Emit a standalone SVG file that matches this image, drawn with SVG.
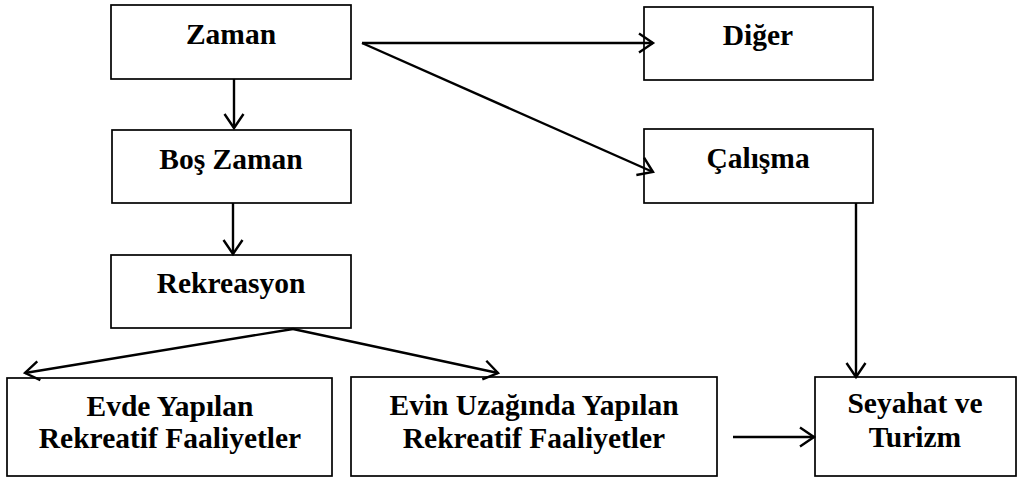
<svg xmlns="http://www.w3.org/2000/svg" width="1017" height="477" viewBox="0 0 1017 477">
<style>
.box{fill:#fff;stroke:#000;stroke-width:1.7}
.t{font-family:"Liberation Serif","Times New Roman",serif;font-weight:bold;font-size:29.5px;text-anchor:middle;fill:#000}
.c{stroke:#000;stroke-width:2.4;fill:none;marker-end:url(#ah)}
</style>
<defs>
<marker id="ah" markerUnits="userSpaceOnUse" markerWidth="30" markerHeight="30" viewBox="-15 -15 30 30" refX="0" refY="0" orient="auto">
<path d="M-14,-9.5 L0,0 L-14,9.5" fill="none" stroke="#000" stroke-width="2.4"/>
</marker>
</defs>
<rect width="1017" height="477" fill="#fff"/>
<g id="zaman"><rect class="box" x="111" y="5" width="240" height="74"/><text class="t" x="231" y="44">Zaman</text></g>
<g id="diger"><rect class="box" x="644" y="7" width="229" height="73"/><text class="t" x="758" y="45">Diğer</text></g>
<g id="bos-zaman"><rect class="box" x="112" y="130" width="239" height="73"/><text class="t" x="231" y="169">Boş Zaman</text></g>
<g id="calisma"><rect class="box" x="644" y="129" width="229" height="74"/><text class="t" x="758" y="168">Çalışma</text></g>
<g id="rekreasyon"><rect class="box" x="111" y="255" width="240" height="73"/><text class="t" x="231" y="293">Rekreasyon</text></g>
<g id="evde"><rect class="box" x="7" y="378" width="325" height="98"/><text class="t" x="170" y="416">Evde Yapılan</text><text class="t" x="170" y="448">Rekreatif Faaliyetler</text></g>
<g id="evin"><rect class="box" x="351" y="377" width="366" height="99"/><text class="t" x="534" y="415">Evin Uzağında Yapılan</text><text class="t" x="534" y="448">Rekreatif Faaliyetler</text></g>
<g id="seyahat"><rect class="box" x="815" y="377" width="201" height="99"/><text class="t" x="915" y="413">Seyahat ve</text><text class="t" x="915" y="447">Turizm</text></g>
<g id="connectors">
<line class="c" x1="234" y1="79" x2="234" y2="128"/>
<line class="c" x1="233" y1="203" x2="233" y2="254"/>
<line class="c" x1="362" y1="43" x2="653" y2="43"/>
<line class="c" x1="362" y1="43" x2="653" y2="172"/>
<line class="c" x1="293" y1="329" x2="25" y2="373"/>
<line class="c" x1="293" y1="329" x2="498" y2="373"/>
<line class="c" x1="856" y1="203" x2="856" y2="377"/>
<line class="c" x1="733" y1="437" x2="814" y2="437"/>
</g>
</svg>
